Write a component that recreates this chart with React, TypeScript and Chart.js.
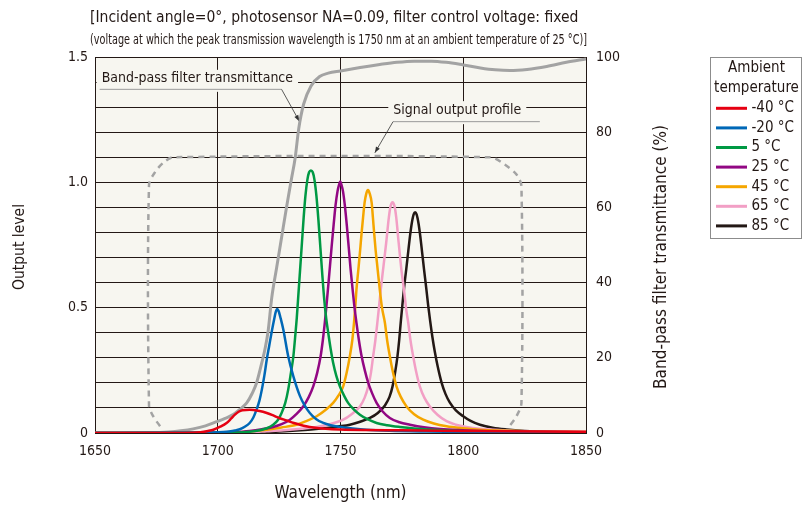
import React, { useEffect, useRef } from 'react';
import { Chart, registerables } from 'chart.js';

Chart.register(...registerables);

// ---------------- data ----------------
const xTickValues = [1650, 1700, 1750, 1800, 1850];
const leftTickLabels = ['0', '0.5', '1.0', '1.5'];
const rightTickValues = [0, 20, 40, 60, 80, 100];

const tempLabels = ['-40 °C', '-20 °C', '5 °C', '25 °C', '45 °C', '65 °C', '85 °C'];
const tempColors = ['#e60012', '#0068b7', '#009944', '#920783', '#f5a600', '#f29fc5', '#231815'];

const wlM40 = [1650, 1680, 1690, 1693, 1696, 1698.2, 1701, 1703.6, 1705.5, 1707, 1708.5, 1710, 1713, 1717, 1720, 1722.6, 1725, 1728, 1731, 1733.5, 1736, 1739, 1744, 1750, 1760, 1775, 1790, 1807, 1830, 1850];
const outM40 = [0, 0, 0.001, 0.003, 0.008, 0.013, 0.025, 0.04, 0.058, 0.073, 0.085, 0.091, 0.093, 0.088, 0.08, 0.07, 0.06, 0.05, 0.04, 0.033, 0.027, 0.022, 0.017, 0.014, 0.012, 0.011, 0.009, 0.008, 0.006, 0.005];

const wlM20 = [1650, 1690, 1700, 1703.6, 1707, 1709, 1711, 1713, 1714.5, 1715.8, 1717, 1718, 1719, 1720, 1721, 1722, 1723, 1723.6, 1724.2, 1724.8, 1725.5, 1726.7, 1728.7, 1730.8, 1733.5, 1735.5, 1737.5, 1740, 1743, 1746, 1750, 1755, 1760.6, 1770, 1785, 1800, 1850];
const outM20 = [0, 0.001, 0.003, 0.005, 0.01, 0.015, 0.025, 0.04, 0.062, 0.093, 0.13, 0.175, 0.23, 0.295, 0.35, 0.405, 0.455, 0.482, 0.495, 0.487, 0.462, 0.413, 0.306, 0.226, 0.147, 0.108, 0.08, 0.056, 0.04, 0.031, 0.024, 0.018, 0.013, 0.009, 0.006, 0.004, 0.002];

const wlP5 = [1650, 1700, 1710.4, 1717.2, 1720, 1722.6, 1724.5, 1726, 1727.5, 1728.7, 1729.8, 1730.8, 1731.5, 1732.2, 1732.9, 1733.6, 1734.3, 1735.0, 1735.7, 1736.5, 1737.2, 1737.95, 1738.7, 1739.4, 1740.2, 1741.0, 1741.8, 1742.6, 1743.4, 1744.2, 1745.0, 1746, 1747.0, 1748.3, 1749.75, 1751.5, 1753.1, 1755.5, 1757.9, 1761, 1764.7, 1769, 1774.2, 1780, 1787.8, 1801.3, 1820, 1850];
const outP5 = [0, 0.001, 0.003, 0.011, 0.019, 0.033, 0.052, 0.08, 0.12, 0.173, 0.24, 0.306, 0.38, 0.46, 0.56, 0.66, 0.76, 0.86, 0.945, 1.01, 1.04, 1.047, 1.04, 1.01, 0.945, 0.85, 0.74, 0.63, 0.53, 0.455, 0.4, 0.335, 0.28, 0.228, 0.186, 0.148, 0.12, 0.093, 0.073, 0.055, 0.04, 0.031, 0.024, 0.018, 0.013, 0.007, 0.004, 0.002];

const wlP25 = [1650, 1700, 1706, 1713, 1718, 1722.6, 1726, 1729.4, 1732, 1734.8, 1737, 1738.9, 1740.5, 1741.9, 1742.8, 1743.6, 1744.3, 1745.0, 1745.7, 1746.4, 1747.2, 1748.0, 1748.8, 1749.4, 1749.9, 1750.4, 1751.0, 1751.8, 1752.6, 1753.4, 1754.1, 1754.8, 1755.6, 1756.5, 1757.5, 1758.6, 1759.9, 1761.3, 1762.9, 1764.7, 1767, 1770.1, 1774, 1778.3, 1784, 1790.5, 1806.8, 1825, 1850];
const outP25 = [0, 0.001, 0.003, 0.008, 0.015, 0.024, 0.035, 0.053, 0.075, 0.106, 0.142, 0.186, 0.24, 0.306, 0.37, 0.439, 0.51, 0.586, 0.665, 0.745, 0.83, 0.91, 0.965, 0.99, 1.003, 0.99, 0.965, 0.905, 0.825, 0.735, 0.655, 0.586, 0.51, 0.439, 0.37, 0.306, 0.25, 0.2, 0.158, 0.12, 0.088, 0.06, 0.043, 0.033, 0.023, 0.016, 0.008, 0.005, 0.003];

const wlP45 = [1650, 1700, 1709, 1715, 1719.9, 1726, 1732.1, 1736, 1740.3, 1744, 1747.0, 1749.2, 1751.1, 1752.5, 1753.8, 1754.8, 1755.5, 1756.0, 1756.5, 1757.4, 1758.0, 1758.6, 1759.2, 1759.8, 1760.5, 1761.2, 1761.9, 1762.7, 1763.2, 1763.7, 1764.3, 1765.0, 1766.0, 1766.9, 1768.1, 1769, 1770.1, 1771.3, 1772.8, 1774.5, 1776.9, 1780, 1783.7, 1788, 1793.2, 1800, 1806.8, 1825, 1850];
const outP45 = [0, 0.001, 0.003, 0.008, 0.013, 0.022, 0.033, 0.047, 0.067, 0.093, 0.12, 0.15, 0.186, 0.24, 0.306, 0.37, 0.439, 0.5, 0.572, 0.665, 0.73, 0.798, 0.86, 0.918, 0.955, 0.969, 0.955, 0.918, 0.86, 0.798, 0.73, 0.665, 0.572, 0.5, 0.439, 0.37, 0.306, 0.245, 0.186, 0.145, 0.106, 0.075, 0.053, 0.038, 0.027, 0.019, 0.013, 0.007, 0.004];

const wlP65 = [1650, 1700, 1713.1, 1720, 1726.7, 1734, 1740.3, 1746, 1751.1, 1754.5, 1757.9, 1759.8, 1761.3, 1762.4, 1763.3, 1764.2, 1765.0, 1765.7, 1766.4, 1767.5, 1768.6, 1769.7, 1770.4, 1771.2, 1772.0, 1772.7, 1773.7, 1774.8, 1776.0, 1776.8, 1777.6, 1778.5, 1779.6, 1780.8, 1782.3, 1784.2, 1786.4, 1789.5, 1793.2, 1797, 1801.3, 1806.8, 1820, 1835, 1850];
const outP65 = [0, 0.001, 0.003, 0.007, 0.011, 0.017, 0.024, 0.036, 0.053, 0.075, 0.106, 0.14, 0.186, 0.24, 0.306, 0.37, 0.439, 0.505, 0.572, 0.665, 0.758, 0.86, 0.905, 0.921, 0.905, 0.86, 0.758, 0.652, 0.56, 0.49, 0.439, 0.37, 0.306, 0.245, 0.186, 0.14, 0.106, 0.073, 0.047, 0.033, 0.024, 0.017, 0.009, 0.006, 0.004];

const wlP85 = [1650, 1710, 1719.9, 1727, 1733.5, 1739, 1744.3, 1749, 1753.8, 1758, 1762, 1765.2, 1768.1, 1770, 1771.2, 1772.3, 1773.2, 1773.9, 1774.6, 1775.2, 1775.9, 1776.8, 1777.6, 1778.3, 1779.0, 1779.8, 1780.4, 1781.0, 1781.8, 1782.5, 1783.2, 1784.0, 1784.9, 1785.7, 1786.5, 1787.4, 1788.4, 1789.6, 1791.2, 1792.8, 1794.5, 1797, 1800, 1803, 1806.8, 1812, 1817.6, 1825, 1833.8, 1850];
const outP85 = [0, 0.001, 0.003, 0.007, 0.011, 0.015, 0.02, 0.026, 0.033, 0.045, 0.06, 0.08, 0.11, 0.145, 0.186, 0.245, 0.306, 0.37, 0.448, 0.51, 0.58, 0.655, 0.725, 0.785, 0.835, 0.872, 0.881, 0.872, 0.835, 0.785, 0.725, 0.655, 0.58, 0.51, 0.448, 0.385, 0.325, 0.265, 0.2, 0.155, 0.122, 0.09, 0.067, 0.048, 0.033, 0.021, 0.014, 0.008, 0.004, 0.002];

// band-pass filter transmittance (%), right axis
const transWl = [1650, 1672, 1680, 1685, 1690, 1695, 1699.5, 1703, 1706.3, 1709, 1711.8, 1714, 1715.8, 1717.5, 1719.2, 1720.5, 1722, 1724, 1726, 1728, 1730, 1731.5, 1733, 1735, 1738, 1741.5, 1745, 1750, 1758, 1766, 1773, 1780, 1787, 1793, 1800, 1807, 1813, 1819, 1826, 1834, 1842, 1850];
const transPct = [0, 0.1, 0.3, 0.6, 1.1, 1.9, 3.0, 3.9, 4.9, 6.3, 8.0, 10.5, 13.3, 17.5, 22.2, 27, 36, 44, 52, 60, 67.5, 73, 81, 87.5, 92.3, 94.8, 95.7, 96.3, 97.2, 98.0, 98.6, 98.9, 98.9, 98.6, 97.9, 97.1, 96.6, 96.4, 96.7, 97.5, 98.6, 99.5];

// signal output profile (dashed outline), left axis
const profWl = [1676.5, 1673.7, 1672.0, 1672.0, 1674.4, 1677.8, 1681.9, 1811, 1816.9, 1821.7, 1823.7, 1823.7, 1821.7, 1818.3];
const profOut = [0.027, 0.067, 0.11, 0.99, 1.04, 1.078, 1.1, 1.1, 1.071, 1.031, 0.984, 0.12, 0.067, 0.02];

const tempWl = [wlM40, wlM20, wlP5, wlP25, wlP45, wlP65, wlP85];
const tempOut = [outM40, outM20, outP5, outP25, outP45, outP65, outP85];

const headerLine1 = '[Incident angle=0°, photosensor NA=0.09, filter control voltage: fixed';
const headerLine2 = '(voltage at which the peak transmission wavelength is 1750 nm at an ambient temperature of 25 °C)]';
const xTitle = 'Wavelength (nm)';
const yTitle = 'Output level';
const y2Title = 'Band-pass filter transmittance (%)';
const legendTitle = ['Ambient', 'temperature'];
const transLabel = 'Band-pass filter transmittance';
const profileLabel = 'Signal output profile';

// ---------------- styles ----------------
const INK = '#231815';
const PLOT_BG = '#f7f6f0';
const GRAY = '#a3a3a3';
const FONT = "'DejaVu Sans Condensed', 'DejaVu Sans', sans-serif";
const NARROW = "'Liberation Sans Narrow', 'DejaVu Sans Condensed', sans-serif";

function arrowLine(ctx: CanvasRenderingContext2D, x1: number, y1: number, x2: number, y2: number) {
  ctx.beginPath();
  ctx.moveTo(x1, y1);
  ctx.lineTo(x2, y2);
  ctx.stroke();
  const a = Math.atan2(y2 - y1, x2 - x1);
  const L = 6, W = 2.2;
  ctx.beginPath();
  ctx.moveTo(x2, y2);
  ctx.lineTo(x2 - L * Math.cos(a) + W * Math.sin(a), y2 - L * Math.sin(a) - W * Math.cos(a));
  ctx.lineTo(x2 - L * Math.cos(a) - W * Math.sin(a), y2 - L * Math.sin(a) + W * Math.cos(a));
  ctx.closePath();
  ctx.fill();
}

const callouts = [
  { text: transLabel, tx: 1652.7, ty: 1.413, ly: 1.373, lx0: 1651.9, lx1: 1726.0, elbow: 1726.0, tipX: 1733.2, tipY: 1.244 },
  { text: profileLabel, tx: 1771.5, ty: 1.288, ly: 1.244, lx0: 1771.4, lx1: 1831.2, elbow: 1771.4, tipX: 1764.0, tipY: 1.118 },
];

const decorPlugin = {
  id: 'decor',
  beforeDraw(chart: any) {
    const { ctx, chartArea: a } = chart;
    ctx.save();
    ctx.fillStyle = PLOT_BG;
    ctx.fillRect(a.left, a.top, a.right - a.left, a.bottom - a.top);
    ctx.restore();
  },
  beforeDatasetsDraw(chart: any) {
    const { ctx } = chart;
    const xs = chart.scales.x, ys = chart.scales.y;
    ctx.save();
    ctx.font = `14px ${FONT}`;
    ctx.textBaseline = 'middle';
    ctx.textAlign = 'left';
    for (const c of callouts) {
      const tx = xs.getPixelForValue(c.tx);
      const ty = ys.getPixelForValue(c.ty);
      const ly = ys.getPixelForValue(c.ly);
      const w = ctx.measureText(c.text).width;
      ctx.fillStyle = PLOT_BG;
      ctx.fillRect(tx - 5, ty - 9, w + 10, ly - ty + 12);
      ctx.fillStyle = INK;
      ctx.fillText(c.text, tx, ty);
      ctx.strokeStyle = '#9a9a9a';
      ctx.lineWidth = 1;
      ctx.beginPath();
      ctx.moveTo(xs.getPixelForValue(c.lx0), ly + 0.5);
      ctx.lineTo(xs.getPixelForValue(c.lx1), ly + 0.5);
      ctx.stroke();
      ctx.strokeStyle = '#333333';
      ctx.fillStyle = '#333333';
      ctx.lineWidth = 0.8;
      arrowLine(ctx, xs.getPixelForValue(c.elbow), ly + 0.5, xs.getPixelForValue(c.tipX), ys.getPixelForValue(c.tipY));
    }
    ctx.restore();
  },
  afterDraw(chart: any) {
    const { ctx, chartArea: a } = chart;
    ctx.save();
    ctx.fillStyle = INK;
    // header
    ctx.textBaseline = 'middle';
    ctx.textAlign = 'left';
    ctx.font = `15.5px ${FONT}`;
    ctx.fillText(headerLine1, 90, 18);
    ctx.font = `14px ${NARROW}`;
    const w2 = ctx.measureText(headerLine2).width;
    ctx.save();
    ctx.translate(90, 40);
    ctx.scale(497 / w2, 1);
    ctx.fillText(headerLine2, 0, 0);
    ctx.restore();
    // axis titles
    ctx.textAlign = 'center';
    ctx.font = `17px ${FONT}`;
    ctx.fillText(xTitle, (a.left + a.right) / 2, 494);
    ctx.save();
    ctx.translate(662, 257);
    ctx.rotate(-Math.PI / 2);
    ctx.fillText(y2Title, 0, 0);
    ctx.restore();
    ctx.font = `15.5px ${FONT}`;
    ctx.save();
    ctx.translate(20, 247);
    ctx.rotate(-Math.PI / 2);
    ctx.fillText(yTitle, 0, 0);
    ctx.restore();
    // legend
    ctx.strokeStyle = '#8c8c8c';
    ctx.lineWidth = 1;
    ctx.strokeRect(710.5, 57.5, 91, 181);
    ctx.font = `15px ${FONT}`;
    ctx.textAlign = 'center';
    ctx.fillStyle = INK;
    ctx.fillText(legendTitle[0], 756.5, 68.5);
    ctx.fillText(legendTitle[1], 756.5, 88.5);
    ctx.textAlign = 'left';
    tempLabels.forEach((lab, i) => {
      const yy = 108.3 + i * 19.6;
      ctx.strokeStyle = tempColors[i];
      ctx.lineWidth = 3;
      ctx.beginPath();
      ctx.moveTo(716, yy);
      ctx.lineTo(747, yy);
      ctx.stroke();
      ctx.fillStyle = INK;
      ctx.fillText(lab, 751.5, yy);
    });
    ctx.restore();
  },
};

export default function App() {
  const ref = useRef<HTMLCanvasElement>(null);
  useEffect(() => {
    if (!ref.current) return;
    const datasets: any[] = tempLabels.map((lab, i) => ({
      label: lab,
      data: tempWl[i].map((x, j) => ({ x, y: tempOut[i][j] })),
      borderColor: tempColors[i],
      borderWidth: 2.5,
      pointRadius: 0,
      fill: false,
      cubicInterpolationMode: 'monotone',
      yAxisID: 'y',
    }));
    datasets.push({
      label: transLabel,
      data: transWl.map((x, j) => ({ x, y: transPct[j] })),
      borderColor: GRAY,
      borderWidth: 3,
      pointRadius: 0,
      fill: false,
      cubicInterpolationMode: 'monotone',
      yAxisID: 'y2',
    });
    datasets.push({
      label: profileLabel,
      data: profWl.map((x, j) => ({ x, y: profOut[j] })),
      borderColor: GRAY,
      borderWidth: 2.5,
      borderDash: [6, 5],
      pointRadius: 0,
      fill: false,
      tension: 0.3,
      yAxisID: 'y',
    });
    const tickFont = { family: FONT, size: 14 };
    const chart = new Chart(ref.current, {
      type: 'line',
      data: { datasets },
      options: {
        animation: false,
        responsive: false,
        maintainAspectRatio: false,
        events: [],
        layout: { padding: { left: 0, right: 150, top: 57, bottom: 0 } },
        plugins: { legend: { display: false }, tooltip: { enabled: false }, title: { display: false } },
        scales: {
          x: {
            type: 'linear',
            min: xTickValues[0],
            max: xTickValues[xTickValues.length - 1],
            afterBuildTicks: (s: any) => { s.ticks = xTickValues.map((v) => ({ value: v })); },
            ticks: { padding: 10, font: tickFont, color: INK, maxRotation: 0, callback: (v: any) => String(v) },
            grid: { color: INK, lineWidth: 1, drawTicks: false },
            border: { color: INK, width: 1 },
            afterFit: (s: any) => { s.height = 76; },
          },
          y: {
            type: 'linear',
            min: 0,
            max: 1.5,
            ticks: {
              stepSize: 0.1,
              padding: 7,
              font: tickFont,
              color: INK,
              callback: (v: any) => {
                const k = Math.round(v * 10);
                return k % 5 === 0 ? leftTickLabels[k / 5] : '';
              },
            },
            grid: { color: INK, lineWidth: 1, drawTicks: false },
            border: { color: INK, width: 1 },
            afterFit: (s: any) => { s.width = 95; },
          },
          y2: {
            type: 'linear',
            position: 'right',
            min: rightTickValues[0],
            max: rightTickValues[rightTickValues.length - 1],
            afterBuildTicks: (s: any) => { s.ticks = rightTickValues.map((v) => ({ value: v })); },
            ticks: { padding: 10, font: tickFont, color: INK, callback: (v: any) => String(v) },
            grid: { drawOnChartArea: false, drawTicks: false },
            border: { color: INK, width: 1 },
            afterFit: (s: any) => { s.width = 67; },
          },
        },
      } as any,
      plugins: [decorPlugin],
    });
    return () => chart.destroy();
  }, []);
  return (
    <div style={{ position: 'absolute', left: 0, top: 0, width: 803, height: 509, background: '#ffffff' }}>
      <canvas ref={ref} width={803} height={509} style={{ width: 803, height: 509, display: 'block' }} />
    </div>
  );
}
